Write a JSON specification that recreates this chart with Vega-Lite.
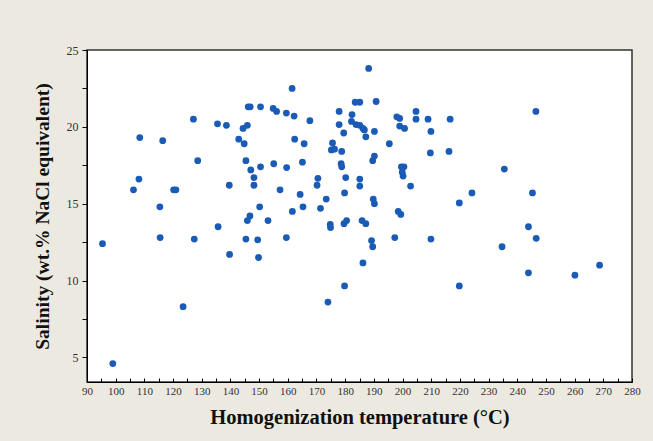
{
  "$schema": "https://vega.github.io/schema/vega-lite/v6.json",
  "autosize": {"type": "none"},
  "padding": {"left": 87, "top": 50, "right": 21, "bottom": 59},
  "width": 545,
  "height": 332,
  "background": "#ECE9E0",
  "config": {
    "view": {"fill": "white", "stroke": "#333333", "strokeWidth": 1.5},
    "axis": {
      "grid": false,
      "domainColor": "#000000",
      "domainWidth": 1,
      "tickColor": "#000000",
      "labelFont": "Liberation Serif",
      "labelColor": "#333333",
      "titleFont": "Liberation Serif",
      "titleFontWeight": "bold",
      "titleColor": "#111111"
    }
  },
  "data": {
    "values": [
      {"T": 95.4, "S": 12.4}, {"T": 99.0, "S": 4.6}, {"T": 106.2, "S": 15.9}, {"T": 108.1, "S": 16.6},
      {"T": 108.4, "S": 19.3}, {"T": 115.4, "S": 14.8}, {"T": 115.5, "S": 12.8}, {"T": 116.4, "S": 19.1},
      {"T": 120.2, "S": 15.9}, {"T": 121.0, "S": 15.9}, {"T": 123.5, "S": 8.3}, {"T": 127.1, "S": 20.5},
      {"T": 127.4, "S": 12.7}, {"T": 128.6, "S": 17.8}, {"T": 135.7, "S": 13.5}, {"T": 135.5, "S": 20.2},
      {"T": 138.6, "S": 20.1}, {"T": 139.6, "S": 16.2}, {"T": 139.7, "S": 11.7}, {"T": 142.9, "S": 19.2},
      {"T": 144.4, "S": 19.9}, {"T": 144.8, "S": 18.9}, {"T": 145.9, "S": 20.1}, {"T": 146.2, "S": 21.3},
      {"T": 146.9, "S": 21.3}, {"T": 145.4, "S": 17.8}, {"T": 147.1, "S": 17.2}, {"T": 145.9, "S": 13.9},
      {"T": 146.8, "S": 14.2}, {"T": 145.4, "S": 12.7}, {"T": 148.2, "S": 16.7}, {"T": 148.2, "S": 16.2},
      {"T": 149.5, "S": 12.65}, {"T": 149.8, "S": 11.5}, {"T": 150.2, "S": 14.8}, {"T": 150.5, "S": 21.3},
      {"T": 150.5, "S": 17.4}, {"T": 153.1, "S": 13.9}, {"T": 154.9, "S": 21.2}, {"T": 156.1, "S": 21.0},
      {"T": 155.1, "S": 17.6}, {"T": 157.3, "S": 15.9}, {"T": 159.5, "S": 20.9}, {"T": 159.6, "S": 17.35},
      {"T": 159.5, "S": 12.8}, {"T": 161.5, "S": 22.5}, {"T": 162.2, "S": 20.7}, {"T": 161.6, "S": 14.5},
      {"T": 162.4, "S": 19.2}, {"T": 164.3, "S": 15.6}, {"T": 165.1, "S": 17.7}, {"T": 165.7, "S": 18.9},
      {"T": 165.3, "S": 14.8}, {"T": 167.7, "S": 20.4}, {"T": 170.5, "S": 16.65}, {"T": 170.2, "S": 16.2},
      {"T": 171.4, "S": 14.7}, {"T": 173.4, "S": 15.3}, {"T": 174.0, "S": 8.6}, {"T": 174.8, "S": 13.65},
      {"T": 174.9, "S": 13.45}, {"T": 175.2, "S": 18.5}, {"T": 175.6, "S": 18.95}, {"T": 176.3, "S": 18.55},
      {"T": 177.9, "S": 21.0}, {"T": 177.9, "S": 20.15}, {"T": 178.8, "S": 18.4}, {"T": 178.6, "S": 17.6},
      {"T": 178.8, "S": 17.4}, {"T": 179.5, "S": 19.6}, {"T": 180.2, "S": 16.7}, {"T": 179.8, "S": 15.7},
      {"T": 179.6, "S": 13.7}, {"T": 180.5, "S": 13.9}, {"T": 179.8, "S": 9.65}, {"T": 182.4, "S": 20.8},
      {"T": 182.2, "S": 20.35}, {"T": 183.8, "S": 20.15}, {"T": 183.5, "S": 21.6}, {"T": 185.1, "S": 21.6},
      {"T": 185.1, "S": 20.1}, {"T": 185.1, "S": 16.6}, {"T": 185.1, "S": 16.15}, {"T": 186.2, "S": 19.9},
      {"T": 186.7, "S": 19.8}, {"T": 187.2, "S": 19.35}, {"T": 185.9, "S": 13.9}, {"T": 187.2, "S": 13.7},
      {"T": 186.2, "S": 11.15}, {"T": 188.2, "S": 23.8}, {"T": 189.2, "S": 12.6}, {"T": 189.6, "S": 12.2},
      {"T": 189.8, "S": 15.3}, {"T": 190.2, "S": 15.0}, {"T": 189.6, "S": 17.8}, {"T": 190.2, "S": 18.1},
      {"T": 190.2, "S": 19.7}, {"T": 190.8, "S": 21.65}, {"T": 195.4, "S": 18.9}, {"T": 197.3, "S": 12.8},
      {"T": 198.0, "S": 20.65}, {"T": 199.0, "S": 20.55}, {"T": 199.0, "S": 20.05}, {"T": 198.5, "S": 14.5},
      {"T": 199.4, "S": 14.3}, {"T": 199.6, "S": 17.4}, {"T": 200.2, "S": 16.8}, {"T": 199.9, "S": 17.05},
      {"T": 200.7, "S": 19.9}, {"T": 200.5, "S": 17.4}, {"T": 202.8, "S": 16.15}, {"T": 204.7, "S": 21.0},
      {"T": 204.7, "S": 20.5}, {"T": 208.9, "S": 20.5}, {"T": 209.9, "S": 19.7}, {"T": 209.7, "S": 18.3},
      {"T": 209.9, "S": 12.7}, {"T": 216.6, "S": 20.5}, {"T": 216.2, "S": 18.4}, {"T": 219.8, "S": 15.05},
      {"T": 219.8, "S": 9.65}, {"T": 224.2, "S": 15.7}, {"T": 234.7, "S": 12.2}, {"T": 235.5, "S": 17.25},
      {"T": 243.9, "S": 13.5}, {"T": 243.9, "S": 10.5}, {"T": 245.3, "S": 15.7}, {"T": 246.5, "S": 21.0},
      {"T": 246.6, "S": 12.75}, {"T": 260.1, "S": 10.35}, {"T": 268.7, "S": 11.0}
    ]
  },
  "mark": {"type": "point", "filled": true, "size": 46, "color": "#1a5bb5", "opacity": 1},
  "encoding": {
    "x": {
      "field": "T",
      "type": "quantitative",
      "scale": {"domain": [90, 280], "nice": false, "zero": false},
      "axis": {
        "title": "Homogenization temperature (°C)",
        "titleFontSize": 20.5,
        "titlePadding": 11,
        "values": [90,95,100,105,110,115,120,125,130,135,140,145,150,155,160,165,170,175,180,185,190,195,200,205,210,215,220,225,230,235,240,245,250,255,260,265,270,275,280],
        "labelExpr": "datum.value % 10 == 0 ? datum.label : ''",
        "tickSize": -4,
        "labelPadding": 7,
        "labelFontSize": 11,
        "labelFlush": false,
        "labelOverlap": false
      }
    },
    "y": {
      "field": "S",
      "type": "quantitative",
      "scale": {"domain": [3.4, 25], "nice": false, "zero": false},
      "axis": {
        "title": "Salinity (wt.% NaCl equivalent)",
        "titleFontSize": 19.5,
        "titlePadding": 14,
        "values": [5, 7.5, 10, 12.5, 15, 17.5, 20, 22.5, 25],
        "labelExpr": "datum.value % 5 == 0 ? datum.label : ''",
        "tickSize": 5,
        "labelPadding": 4,
        "labelFontSize": 12,
        "labelFlush": false,
        "labelOverlap": false
      }
    }
  }
}
